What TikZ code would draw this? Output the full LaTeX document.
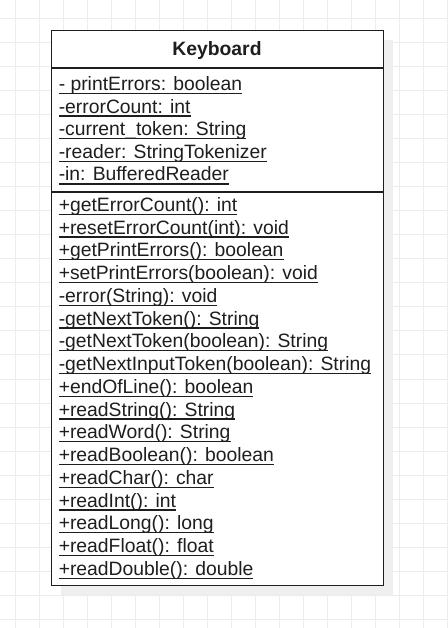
\documentclass[tikz,border=0pt]{standalone}
\usepackage{fontspec}
\setmainfont{Liberation Sans}
\newcommand\ulx[1]{\leavevmode\setbox0\hbox{#1}\rlap{\rule[-2.75pt]{\wd0}{1pt}}\box0}
\definecolor{gridc}{HTML}{ECECEC}
\definecolor{shadowc}{HTML}{EFEFEF}
\definecolor{inkc}{HTML}{1E1E1E}
\begin{document}
\begin{tikzpicture}[x=0.75pt,y=-0.75pt,
  gridline/.style={draw=gridc,line width=0.75pt},
  boxline/.style={draw=inkc,line width=1.1pt},
  txt/.style={anchor=base west,inner sep=0pt,text=inkc,font=\fontsize{14.5pt}{17pt}\selectfont},
  ttl/.style={anchor=base,inner sep=0pt,text=inkc,font=\fontsize{14.5pt}{17pt}\selectfont\bfseries}]
\useasboundingbox (0,0) rectangle (448,628);
\fill[white] (0,0) rectangle (448,628);
% grid
\foreach \i in {0,...,18} \draw[gridline] (15+24.04*\i,0) -- (15+24.04*\i,628);
\foreach \j in {0,...,25} \draw[gridline] (0,18.4+24.04*\j) -- (448,18.4+24.04*\j);
% shadow
\fill[shadowc] (61,40) rectangle (393,595);
% class box
\node[boxline,fill=white,inner sep=0pt,minimum width=249pt,minimum height=416.25pt,anchor=north west] (box) at (51,30) {};
\coordinate (s1) at (0,68);
\coordinate (s2) at (0,192);
\draw[boxline] (box.west |- s1) -- (box.east |- s1);
\draw[boxline] (box.west |- s2) -- (box.east |- s2);
\node[ttl] (title) at (217,55) {Keyboard};
% attributes
\node[txt] (a1) at (58.5,90.5) {\ulx{- printErrors: boolean}};
\node[txt] (a2) at (58.5,113.1) {\ulx{-errorCount: int}};
\node[txt] (a3) at (58.5,135.7) {\ulx{-current\_token: String}};
\node[txt] (a4) at (58.5,158.3) {\ulx{-reader: StringTokenizer}};
\node[txt] (a5) at (58.5,180.9) {\ulx{-in: BufferedReader}};
% methods
\foreach \t [count=\k from 0] in {%
  {+getErrorCount(): int},
  {+resetErrorCount(int): void},
  {+getPrintErrors(): boolean},
  {+setPrintErrors(boolean): void},
  {-error(String): void},
  {-getNextToken(): String},
  {-getNextToken(boolean): String},
  {-getNextInputToken(boolean): String},
  {+endOfLine(): boolean},
  {+readString(): String},
  {+readWord(): String},
  {+readBoolean(): boolean},
  {+readChar(): char},
  {+readInt(): int},
  {+readLong(): long},
  {+readFloat(): float},
  {+readDouble(): double}}
  \node[txt] (m\k) at (58.5,211.3+22.75*\k) {\ulx{\t}};
\end{tikzpicture}
\end{document}
